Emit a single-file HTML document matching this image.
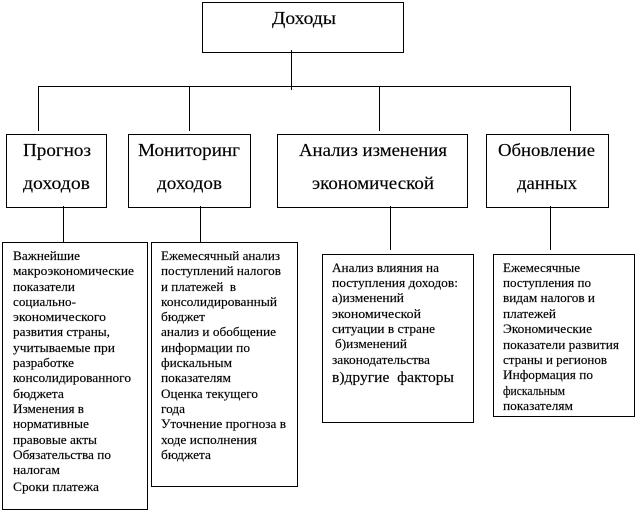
<!DOCTYPE html>
<html lang="ru">
<head>
<meta charset="utf-8">
<title>Доходы</title>
<style>
html,body{margin:0;padding:0;background:#fff;width:637px;height:513px;overflow:hidden}
svg{display:block}
text{font-family:"Liberation Serif","Noto Serif CJK SC",serif;fill:#000;stroke:#000;stroke-width:.15px;font-size:12.5px;white-space:pre}
.h{font-size:17.5px}
rect{fill:#fff;stroke:#000;stroke-width:1}
line{stroke:#000;stroke-width:1}
</style>
</head>
<body>
<svg width="637" height="513" viewBox="0 0 637 513" xmlns="http://www.w3.org/2000/svg" shape-rendering="crispEdges">
<rect x="202.5" y="2.5" width="201" height="50"/>
<rect x="6.5" y="134.5" width="100" height="73"/>
<rect x="128.5" y="134.5" width="122" height="73"/>
<rect x="277.5" y="134.5" width="190" height="73"/>
<rect x="486.5" y="134.5" width="122" height="73"/>
<rect x="2.5" y="242.5" width="145" height="267"/>
<rect x="151.5" y="242.5" width="146" height="244"/>
<rect x="322.5" y="254.5" width="151" height="168"/>
<rect x="493.5" y="254.5" width="141" height="162"/>

<line x1="291.5" y1="50" x2="291.5" y2="90"/>
<line x1="38" y1="86.5" x2="570" y2="86.5"/>
<line x1="38.5" y1="86" x2="38.5" y2="131"/>
<line x1="189.5" y1="86" x2="189.5" y2="131"/>
<line x1="379.5" y1="86" x2="379.5" y2="131"/>
<line x1="570.5" y1="86" x2="570.5" y2="131"/>
<line x1="63.5" y1="206" x2="63.5" y2="242"/>
<line x1="200.5" y1="206" x2="200.5" y2="242"/>
<line x1="390.5" y1="206" x2="390.5" y2="250"/>
<line x1="550.5" y1="206" x2="550.5" y2="250"/>

<text class="h" x="272" y="24" textLength="64" lengthAdjust="spacingAndGlyphs">Доходы</text>
<text class="h" x="23" y="156" textLength="68" lengthAdjust="spacingAndGlyphs">Прогноз</text>
<text class="h" x="23" y="189" textLength="67" lengthAdjust="spacingAndGlyphs">доходов</text>
<text class="h" x="138" y="156" textLength="102" lengthAdjust="spacingAndGlyphs">Мониторинг</text>
<text class="h" x="157" y="189" textLength="65" lengthAdjust="spacingAndGlyphs">доходов</text>
<text class="h" x="299" y="156" textLength="148" lengthAdjust="spacingAndGlyphs">Анализ изменения</text>
<text class="h" x="312" y="189" textLength="122" lengthAdjust="spacingAndGlyphs">экономической</text>
<text class="h" x="498" y="156" textLength="97" lengthAdjust="spacingAndGlyphs">Обновление</text>
<text class="h" x="517" y="189" textLength="60" lengthAdjust="spacingAndGlyphs">данных</text>

<text x="13" y="260" textLength="67" lengthAdjust="spacingAndGlyphs">Важнейшие</text>
<text x="13" y="275" textLength="121" lengthAdjust="spacingAndGlyphs">макроэкономические</text>
<text x="13" y="291" textLength="62" lengthAdjust="spacingAndGlyphs">показатели</text>
<text x="13" y="306" textLength="63" lengthAdjust="spacingAndGlyphs">социально-</text>
<text x="13" y="321" textLength="93" lengthAdjust="spacingAndGlyphs">экономического</text>
<text x="13" y="336" textLength="97" lengthAdjust="spacingAndGlyphs">развития страны,</text>
<text x="13" y="352" textLength="102" lengthAdjust="spacingAndGlyphs">учитываемые при</text>
<text x="13" y="367" textLength="61" lengthAdjust="spacingAndGlyphs">разработке</text>
<text x="13" y="382" textLength="118" lengthAdjust="spacingAndGlyphs">консолидированного</text>
<text x="13" y="398" textLength="51" lengthAdjust="spacingAndGlyphs">бюджета</text>
<text x="13" y="413" textLength="71" lengthAdjust="spacingAndGlyphs">Изменения в</text>
<text x="13" y="428" textLength="76" lengthAdjust="spacingAndGlyphs">нормативные</text>
<text x="13" y="444" textLength="84" lengthAdjust="spacingAndGlyphs">правовые акты</text>
<text x="13" y="459" textLength="98" lengthAdjust="spacingAndGlyphs">Обязательства по</text>
<text x="13" y="474" textLength="47" lengthAdjust="spacingAndGlyphs">налогам</text>
<text x="13" y="491" textLength="86" lengthAdjust="spacingAndGlyphs">Сроки платежа</text>

<text x="161" y="260" textLength="119" lengthAdjust="spacingAndGlyphs">Ежемесячный анализ</text>
<text x="161" y="275" textLength="120" lengthAdjust="spacingAndGlyphs">поступлений налогов</text>
<text x="161" y="291" textLength="75" lengthAdjust="spacingAndGlyphs">и платежей  в</text>
<text x="161" y="306" textLength="116" lengthAdjust="spacingAndGlyphs">консолидированный</text>
<text x="161" y="321" textLength="44" lengthAdjust="spacingAndGlyphs">бюджет</text>
<text x="161" y="336" textLength="115" lengthAdjust="spacingAndGlyphs">анализ и обобщение</text>
<text x="161" y="352" textLength="89" lengthAdjust="spacingAndGlyphs">информации по</text>
<text x="161" y="367" textLength="71" lengthAdjust="spacingAndGlyphs">фискальным</text>
<text x="161" y="382" textLength="70" lengthAdjust="spacingAndGlyphs">показателям</text>
<text x="161" y="398" textLength="97" lengthAdjust="spacingAndGlyphs">Оценка текущего</text>
<text x="161" y="413" textLength="24" lengthAdjust="spacingAndGlyphs">года</text>
<text x="161" y="428" textLength="125" lengthAdjust="spacingAndGlyphs">Уточнение прогноза в</text>
<text x="161" y="444" textLength="96" lengthAdjust="spacingAndGlyphs">ходе исполнения</text>
<text x="161" y="459" textLength="50" lengthAdjust="spacingAndGlyphs">бюджета</text>

<text x="332" y="272" textLength="107" lengthAdjust="spacingAndGlyphs">Анализ влияния на</text>
<text x="332" y="287" textLength="126" lengthAdjust="spacingAndGlyphs">поступления доходов:</text>
<text x="332" y="302" textLength="72" lengthAdjust="spacingAndGlyphs">а)изменений</text>
<text x="332" y="318" textLength="89" lengthAdjust="spacingAndGlyphs">экономической</text>
<text x="332" y="333" textLength="103" lengthAdjust="spacingAndGlyphs">ситуации в стране</text>
<text x="335" y="348" textLength="72" lengthAdjust="spacingAndGlyphs">б)изменений</text>
<text x="332" y="364" textLength="98" lengthAdjust="spacingAndGlyphs">законодательства</text>
<text x="332" y="382" style="font-size:14.5px" textLength="122" lengthAdjust="spacingAndGlyphs">в)другие  факторы</text>

<text x="503" y="272" textLength="77" lengthAdjust="spacingAndGlyphs">Ежемесячные</text>
<text x="503" y="287" textLength="88" lengthAdjust="spacingAndGlyphs">поступления по</text>
<text x="503" y="302" textLength="92" lengthAdjust="spacingAndGlyphs">видам налогов и</text>
<text x="503" y="318" textLength="53" lengthAdjust="spacingAndGlyphs">платежей</text>
<text x="503" y="333" textLength="89" lengthAdjust="spacingAndGlyphs">Экономические</text>
<text x="503" y="349" textLength="116" lengthAdjust="spacingAndGlyphs">показатели развития</text>
<text x="503" y="364" textLength="104" lengthAdjust="spacingAndGlyphs">страны и регионов</text>
<text x="503" y="379" textLength="90" lengthAdjust="spacingAndGlyphs">Информация по</text>
<text x="503" y="395" textLength="62" lengthAdjust="spacingAndGlyphs">фискальным</text>
<text x="503" y="410" textLength="70" lengthAdjust="spacingAndGlyphs">показателям</text>
</svg>
</body>
</html>
